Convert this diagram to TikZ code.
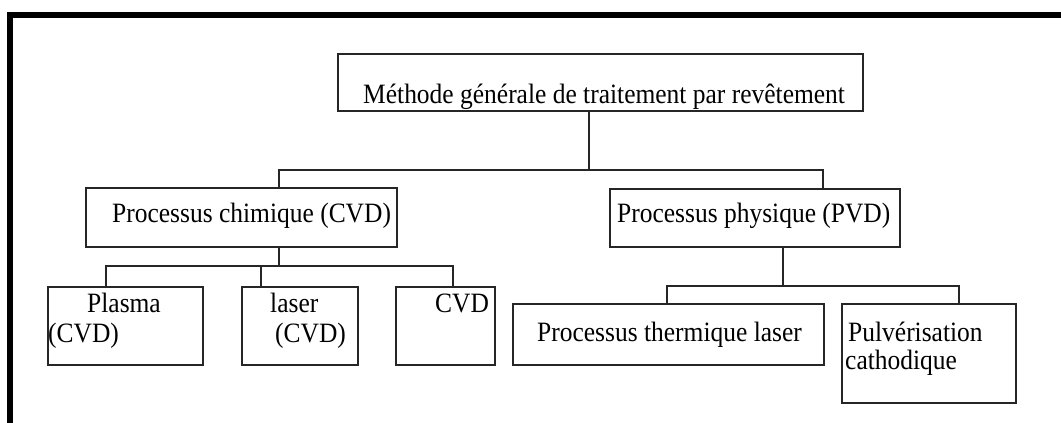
\documentclass[tikz,border=0pt]{standalone}
\usepackage{fontspec}
\setmainfont{Liberation Serif}
\newcommand{\sq}[1]{\scalebox{0.91}[1]{#1}}
\begin{document}
\begin{tikzpicture}[x=1pt,y=1pt,
  boxst/.style={draw=black!85, line width=1.6pt, rectangle, inner sep=0pt, anchor=north west},
  txt/.style={inner sep=0pt, anchor=base west, font=\fontsize{28}{30}\selectfont, text=black},
  link/.style={draw=black!85, line width=1.6pt}]
\useasboundingbox (0,0) rectangle (1061,-423);
\clip (0,0) rectangle (1061,-423);
\fill[white] (0,0) rectangle (1061,-423);
% outer frame
\draw[line width=6pt, black] (10.3,-440) -- (10.3,-14.5) -- (1080,-14.5);
% boxes
\node[boxst, minimum width=525pt, minimum height=57pt] (top) at (337,-53) {};
\node[boxst, minimum width=311pt, minimum height=59pt] (chim) at (85,-187) {};
\node[boxst, minimum width=290pt, minimum height=58pt] (phys) at (609,-188) {};
\node[boxst, minimum width=155pt, minimum height=78pt] (plasma) at (47,-286) {};
\node[boxst, minimum width=116pt, minimum height=78pt] (laser) at (241,-286) {};
\node[boxst, minimum width=99pt, minimum height=78pt] (cvd) at (395,-286) {};
\node[boxst, minimum width=311pt, minimum height=61pt] (therm) at (512,-303) {};
\node[boxst, minimum width=174pt, minimum height=99pt] (pulv) at (841,-303) {};
% texts
\node[txt] (ttop) at (363,-103) {\sq{Méthode générale de traitement par revêtement}};
\node[txt] (tchim) at (112,-222) {\sq{Processus chimique (CVD)}};
\node[txt] (tphys) at (617,-222) {\sq{Processus physique (PVD)}};
\node[txt] (tplasma1) at (87,-312) {\sq{Plasma}};
\node[txt] (tplasma2) at (48,-342) {\sq{(CVD)}};
\node[txt] (tlaser1) at (270,-312) {\sq{laser}};
\node[txt] (tlaser2) at (275,-342) {\sq{(CVD)}};
\node[txt] (tcvd) at (435,-312) {\sq{CVD}};
\node[txt] (ttherm) at (537,-341) {\sq{Processus thermique laser}};
\node[txt] (tpulv1) at (848,-341) {\sq{Pulvérisation}};
\node[txt] (tpulv2) at (845,-369) {\sq{cathodique}};
% junction coordinates
\coordinate (j0) at (589,-170);
\coordinate (b0) at (279,-170);
\coordinate (b1) at (823,-170);
\coordinate (c0) at (279,-266);
\coordinate (ca) at (106,-266);
\coordinate (cb) at (261,-266);
\coordinate (cc) at (453,-266);
\coordinate (p0) at (783,-286);
\coordinate (pa) at (667,-286);
\coordinate (pb) at (959,-286);
% connectors
\draw[link] (top.south -| j0) -- (j0);
\draw[link] (chim.north -| b0) -- (b0) -- (b1) -- (phys.north -| b1);
\draw[link] (chim.south -| c0) -- (c0);
\draw[link] (plasma.north -| ca) -- (ca) -- (cc) -- (cvd.north -| cc);
\draw[link] (cb) -- (laser.north -| cb);
\draw[link] (phys.south -| p0) -- (p0);
\draw[link] (therm.north -| pa) -- (pa) -- (pb) -- (pulv.north -| pb);
\end{tikzpicture}
\end{document}
